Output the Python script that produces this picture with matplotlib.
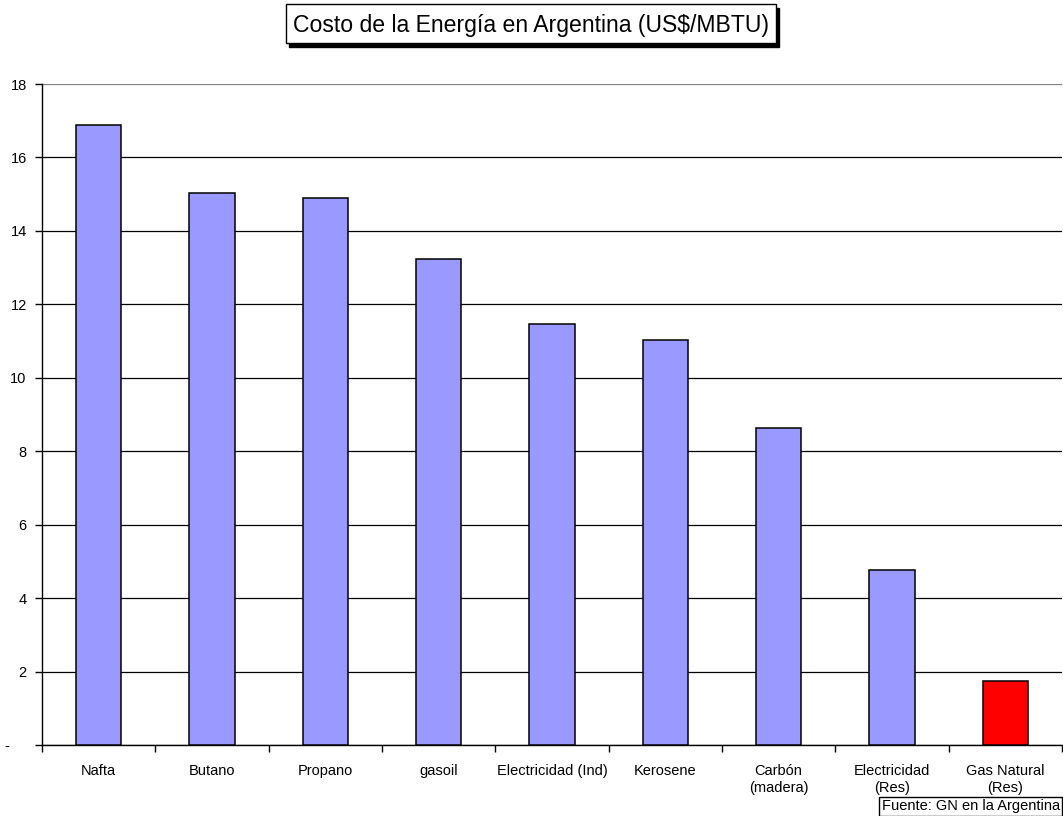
import matplotlib.pyplot as plt
from matplotlib.patches import Rectangle

plt.rcParams['font.family'] = ['Liberation Sans', 'DejaVu Sans']

# Data
categorias = ['Nafta', 'Butano', 'Propano', 'gasoil', 'Electricidad (Ind)',
              'Kerosene', 'Carbón\n(madera)', 'Electricidad\n(Res)',
              'Gas Natural\n(Res)']
costos = [16.89, 15.04, 14.90, 13.24, 11.47, 11.03, 8.64, 4.77, 1.74]
colores = ['#9999FF'] * 8 + ['#FF0000']
y_ticks = [0, 2, 4, 6, 8, 10, 12, 14, 16, 18]
y_labels = ['-    ', '2', '4', '6', '8', '10', '12', '14', '16', '18']

W, H = 1063, 816
fig = plt.figure(figsize=(W / 100, H / 100), dpi=100)
ax = fig.add_axes([42 / W, (H - 745) / H, (1062 - 42) / W, (745 - 84) / H])

x = list(range(len(categorias)))
ax.bar(x, costos, width=0.4, color=colores, edgecolor='black', linewidth=1.1, zorder=3)

ax.set_xlim(-0.5, len(categorias) - 0.5)
ax.set_ylim(0, 18)
ax.set_yticks(y_ticks)
ax.set_yticklabels(y_labels, fontsize=10.5)
ax.yaxis.grid(True, color='black', linewidth=0.9, zorder=0)

# category labels between boundary tick marks
ax.set_xticks(x)
ax.set_xticklabels(categorias, fontsize=10.5)
ax.tick_params(axis='x', length=0, pad=14)
ax.set_xticks([i - 0.5 for i in range(len(categorias) + 1)], minor=True)
ax.tick_params(axis='x', which='minor', length=5, width=1, direction='out')
ax.tick_params(axis='y', length=5, width=1, direction='out', pad=6)

for s in ['top', 'right']:
    ax.spines[s].set_visible(False)
ax.spines['left'].set_linewidth(1.0)
ax.spines['bottom'].set_linewidth(1.0)
ax.get_ygridlines()[-1].set_color('gray')

# title box with shadow
bx0, by0, bx1, by1 = 286, 4, 776, 43
fig.add_artist(Rectangle(((bx0 + 3) / W, (H - by1 - 4) / H), (bx1 - bx0) / W, (by1 - by0) / H,
                         transform=fig.transFigure, facecolor='black', edgecolor='black'))
fig.add_artist(Rectangle((bx0 / W, (H - by1) / H), (bx1 - bx0) / W, (by1 - by0) / H,
                         transform=fig.transFigure, facecolor='white', edgecolor='black', linewidth=1))
fig.text((bx0 + bx1) / 2 / W, (H - 32) / H,
         'Costo de la Energía en Argentina (US$/MBTU)',
         ha='center', va='baseline', fontsize=16.6)

# source box
fig.add_artist(Rectangle((879 / W, 0), (1062 - 879) / W, (816 - 797) / H,
                         transform=fig.transFigure, facecolor='white', edgecolor='black', linewidth=1))
fig.text(882 / W, (H - 806) / H, 'Fuente: GN en la Argentina', ha='left', va='center', fontsize=10.5)

fig.savefig('out.png', dpi=100)
